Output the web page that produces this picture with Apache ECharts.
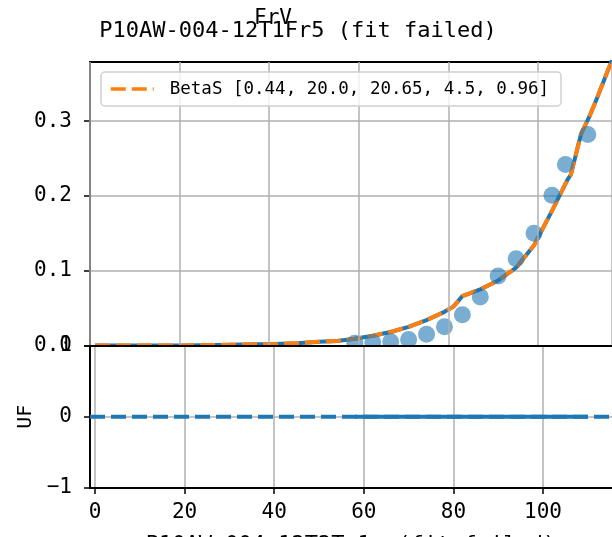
<!DOCTYPE html>
<html>
<head>
<meta charset="utf-8">
<script src="https://cdn.jsdelivr.net/npm/echarts@6/dist/echarts.min.js"></script>
<style>
html, body { margin: 0; padding: 0; background: #fff; }
#chart { width: 612px; height: 537px; }
</style>
</head>
<body>
<div id="chart"></div>
<script>
// measured points (top panel)
const pointX = [58, 62, 66, 70, 74, 78, 82, 86, 90, 94, 98, 102, 105, 110];
const pointY = [0.003, 0.004, 0.005, 0.008, 0.015, 0.025, 0.041, 0.065, 0.093, 0.116, 0.150, 0.201, 0.242, 0.282];

// BetaS curve
const fitX = [0, 20, 30, 40, 45, 50, 54, 58, 62, 66, 70, 74, 78, 80, 82, 86, 90, 94, 98, 102, 105.5, 106.2, 108.5, 110.5, 112, 114.3, 116];
const fitY = [0, 0, 0.001, 0.002, 0.003, 0.005, 0.006, 0.009, 0.013, 0.018, 0.025, 0.034, 0.045, 0.052, 0.066, 0.075, 0.087, 0.104, 0.134, 0.180, 0.222, 0.228, 0.283, 0.308, 0.330, 0.365, 0.390];

// residuals (bottom panel)
const residY = [0, 0, 0, 0, 0, 0, 0, 0, 0, 0, 0, 0, 0, 0];
const zeroLineX = [-1.12, 115.4];
const zeroLineY = [0, 0];

const xMin = -1.12, xMax = 115.4;
const topMin = 0, topMax = 0.379;
const bottomMin = -1, bottomMax = 1;

const legendName = 'BetaS [0.44, 20.0, 20.65, 4.5, 0.96]';
const mainTitle = 'P10AW-004-12T1Fr5 (fit failed)';
const supTitle = 'FrV';
const bottomName = 'P10AW-004-12T2T-1r (fit failed)';

const FONT = 'DejaVu Sans Mono';
const BLUE = '#1f77b4';
const ORANGE = '#ff7f0e';
const GRIDC = '#b0b0b0';

let chartDom = document.getElementById('chart');
let chart = echarts.init(chartDom);

const pair = (xs, ys) => xs.map((x, i) => [x, ys[i]]);

const option = {
    animation: false,
    backgroundColor: '#fff',
    textStyle: { fontFamily: FONT },
    graphic: [
        {
            type: 'text', x: 273, y: 8,
            style: { text: supTitle, font: '21px ' + FONT, fill: '#000', textAlign: 'center' }
        },
        {
            type: 'text', x: 298, y: 20,
            style: { text: mainTitle, font: '22px ' + FONT, fill: '#000', textAlign: 'center' }
        }
    ],
    legend: {
        data: [legendName],
        left: 101,
        top: 72,
        padding: [8, 12, 8, 8],
        itemWidth: 43,
        itemHeight: 14,
        itemGap: 10,
        itemStyle: { opacity: 0 },
        lineStyle: { width: 3.5 },
        borderColor: '#d0d0d0',
        borderWidth: 1.5,
        borderRadius: 4,
        backgroundColor: 'rgba(255,255,255,0.8)',
        textStyle: { fontFamily: FONT, fontSize: 17.5, color: '#000', padding: [0, 0, 0, 11] },
        z: 10
    },
    grid: [
        { left: 90, top: 62, right: 0, height: 283.5, outerBoundsMode: 'none', containLabel: false },
        { left: 90, top: 345.5, right: 0, height: 142.5, outerBoundsMode: 'none', containLabel: false,
          show: true, backgroundColor: '#fff', borderWidth: 0, z: 3 }
    ],
    xAxis: [
        {
            gridIndex: 0, type: 'value', min: xMin, max: xMax, interval: 20, z: 6,
            axisLine: { show: true, onZero: false, lineStyle: { color: '#000', width: 2 } },
            axisTick: { show: false },
            axisLabel: { show: false },
            splitLine: { show: true, lineStyle: { color: GRIDC, width: 1.5 } }
        },
        {
            gridIndex: 0, type: 'value', position: 'top', min: xMin, max: xMax,
            axisLine: { show: true, onZero: false, lineStyle: { color: '#000', width: 2 } },
            axisTick: { show: false }, axisLabel: { show: false }, splitLine: { show: false }
        },
        {
            gridIndex: 1, type: 'value', min: xMin, max: xMax, interval: 20, z: 4,
            axisLine: { show: true, onZero: false, lineStyle: { color: '#000', width: 2 } },
            axisTick: { show: true, length: 6, lineStyle: { color: '#000', width: 1.5 },
                customValues: [0, 20, 40, 60, 80, 100] },
            axisLabel: { fontFamily: FONT, fontSize: 21, color: '#000', margin: 14,
                customValues: [0, 20, 40, 60, 80, 100] },
            splitLine: { show: true, lineStyle: { color: GRIDC, width: 1.5 } },
            name: bottomName,
            nameLocation: 'middle',
            nameGap: 46,
            nameTextStyle: { fontFamily: FONT, fontSize: 22, color: '#000' }
        }
    ],
    yAxis: [
        {
            gridIndex: 0, type: 'value', min: topMin, max: topMax, interval: 0.1,
            axisLine: { show: true, onZero: false, lineStyle: { color: '#000', width: 2 } },
            axisTick: { show: true, length: 6, lineStyle: { color: '#000', width: 1.5 },
                customValues: [0, 0.1, 0.2, 0.3] },
            axisLabel: { fontFamily: FONT, fontSize: 21, color: '#000', margin: 18,
                customValues: [0, 0.1, 0.2, 0.3],
                formatter: v => v.toFixed(1) },
            splitLine: { show: true, lineStyle: { color: GRIDC, width: 1.5 } }
        },
        {
            gridIndex: 1, type: 'value', min: bottomMin, max: bottomMax, interval: 1, z: 4,
            axisLine: { show: true, onZero: false, lineStyle: { color: '#000', width: 2 } },
            axisTick: { show: true, length: 6, lineStyle: { color: '#000', width: 1.5 } },
            axisLabel: { fontFamily: FONT, fontSize: 21, color: '#000', margin: 18,
                formatter: v => (v < 0 ? '\u2212' + Math.abs(v) : String(v)) },
            splitLine: { show: true, lineStyle: { color: GRIDC, width: 1.5 } },
            name: 'UF',
            nameLocation: 'middle',
            nameGap: 54,
            nameRotate: 90,
            nameTextStyle: { fontFamily: FONT, fontSize: 20, color: '#000' }
        }
    ],
    series: [
        {
            name: 'points', type: 'scatter', xAxisIndex: 0, yAxisIndex: 0,
            data: pair(pointX, pointY),
            symbolSize: 17,
            itemStyle: { color: BLUE, opacity: 0.6 },
            z: 2
        },
        {
            name: 'curve', type: 'line', xAxisIndex: 0, yAxisIndex: 0,
            data: pair(fitX, fitY), showSymbol: false, symbol: 'none',
            lineStyle: { color: BLUE, width: 4 },
            z: 2
        },
        {
            name: legendName, type: 'line', xAxisIndex: 0, yAxisIndex: 0,
            data: pair(fitX, fitY), showSymbol: false, symbol: 'none',
            itemStyle: { color: ORANGE },
            lineStyle: { color: ORANGE, width: 4, type: [15, 6] },
            z: 2
        },
        {
            name: 'resid', type: 'line', xAxisIndex: 2, yAxisIndex: 1,
            data: pair(pointX, residY), showSymbol: false, symbol: 'none',
            lineStyle: { color: BLUE, width: 4 },
            z: 5
        },
        {
            name: 'zero', type: 'line', xAxisIndex: 2, yAxisIndex: 1,
            data: pair(zeroLineX, zeroLineY), showSymbol: false, symbol: 'none',
            lineStyle: { color: BLUE, width: 4, type: [15, 6] },
            z: 5
        }
    ]
};

chart.setOption(option);
</script>
</body>
</html>
